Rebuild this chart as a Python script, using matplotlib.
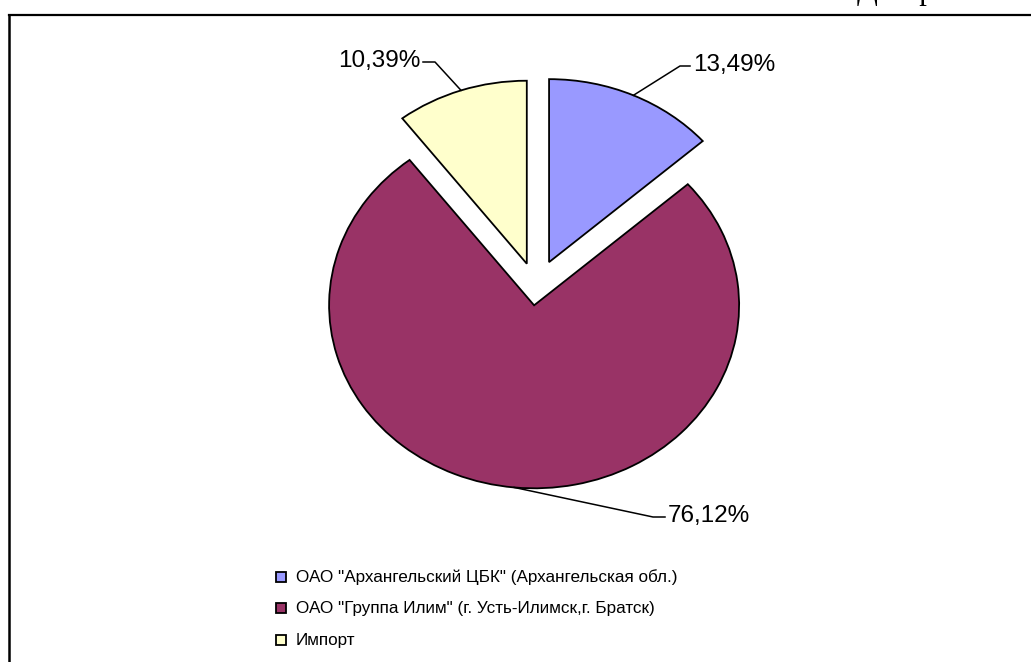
import numpy as np
import matplotlib
matplotlib.use('Agg')
import matplotlib.pyplot as plt
from matplotlib.patches import Rectangle
from matplotlib.lines import Line2D

# dati
labels = ['ОАО "Архангельский ЦБК" (Архангельская обл.)',
          'ОАО "Группа Илим" (г. Усть-Илимск,г. Братск)',
          'Импорт']
shares = [13.49, 76.12, 10.39]
pct_labels = ['13,49%', '76,12%', '10,39%']
colors = ['#9999FF', '#993366', '#FFFFCC']
explode = [0.155, 0.095, 0.14]

W, H = 1031, 662
fig = plt.figure(figsize=(W / 100, H / 100), dpi=100)
plt.rcParams['font.family'] = ['Liberation Sans', 'DejaVu Sans']

# centro e raggi in pixel (torta leggermente ellittica)
cx, cy, rx, ry = 536, 288, 205, 183

ax = fig.add_axes([0, 0, 1, 1])
wedges, _ = ax.pie(shares, colors=colors, explode=explode, startangle=90,
                   counterclock=False,
                   wedgeprops=dict(edgecolor='black', linewidth=1.3))
ax.set_aspect('auto')
ax.set_xlim(-cx / rx, (W - cx) / rx)
ax.set_ylim((cy - H) / ry, cy / ry)
ax.axis('off')


def px(x, y):
    return (x - cx) / rx, (cy - y) / ry


# etichette percentuali con linee guida
# (gomito, fine linea, allineamento)
leaders = [((680, 66), (690, 66), 'left'),
           ((653, 517), (665, 517), 'left'),
           ((435, 62), (423, 62), 'right')]

for w, txt, (elbow, end, ha) in zip(wedges, pct_labels, leaders):
    ang = np.deg2rad((w.theta1 + w.theta2) / 2)
    ax0 = w.center[0] + np.cos(ang)
    ay0 = w.center[1] + np.sin(ang)
    ex, ey = px(*elbow)
    fx, fy = px(*end)
    ax.plot([ax0, ex, fx], [ay0, ey, fy], color='black', linewidth=1.1)
    off = 3 / rx if ha == 'left' else -3 / rx
    ax.text(fx + off, fy + 1 / ry, txt, ha=ha, va='center', fontsize=17.5)

# legenda
rows = [577, 608, 640]
for lab, col, y in zip(labels, colors, rows):
    fig.add_artist(Rectangle((276 / W, 1 - (y + 5) / H), 10 / W, 10 / H,
                             transform=fig.transFigure, facecolor=col,
                             edgecolor='black', linewidth=1.3))
    fig.text(296 / W, 1 - y / H, lab, ha='left', va='center', fontsize=12.3)

# cornice
fig.add_artist(Line2D([8.5 / W, 1.0], [1 - 15 / H, 1 - 15 / H],
                      transform=fig.transFigure, color='black', linewidth=1.6))
fig.add_artist(Line2D([8.5 / W, 8.5 / W], [1 - 15 / H, 0.0],
                      transform=fig.transFigure, color='black', linewidth=1.8))

# titolo tagliato in alto
fig.text(857 / W, 1 + 1 / H, 'Диаграмма', family='Liberation Serif',
         fontsize=22, ha='left', va='baseline')

fig.savefig('out.png', dpi=100)
